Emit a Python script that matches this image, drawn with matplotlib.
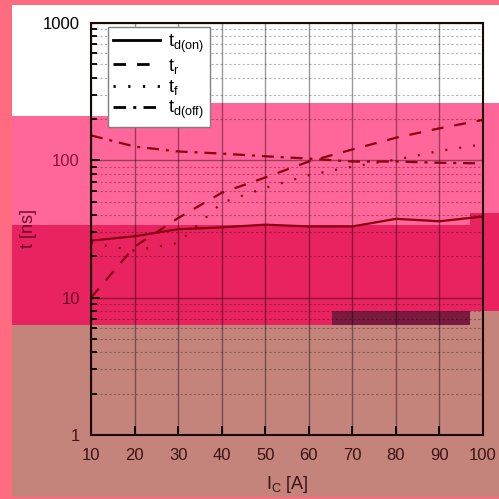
import numpy as np
import matplotlib
matplotlib.use("Agg")
import matplotlib.pyplot as plt
from matplotlib.patches import Rectangle
from matplotlib.lines import Line2D
from matplotlib.ticker import LogLocator, NullFormatter, FixedLocator

plt.rcParams['font.family'] = ['Liberation Sans', 'DejaVu Sans']
plt.rcParams['mathtext.default'] = 'regular'

# Data (collector current in A, times in ns)
ic = [10, 20, 30, 40, 50, 60, 70, 80, 90, 100]
td_on = [26, 28, 31.5, 32.5, 34, 33, 33, 37.5, 36, 39]
t_r = [10, 23.5, 38, 58, 75, 98, 120, 146, 171, 197]
t_f = [25, 22, 25, 49, 63, 78, 90, 101, 117, 131]
td_off = [152, 126, 116, 112, 107, 103, 98, 98, 96, 95]

x_ticks = [10, 20, 30, 40, 50, 60, 70, 80, 90, 100]
y_ticks = [1, 10, 100, 1000]
y_tick_labels = ['1', '10', '100', '1000']
y_tick_colors = ['#4a1418', '#6e0a2c', '#8a1438', 'black']

W = H = 499
fig = plt.figure(figsize=(W / 100, H / 100), dpi=100, facecolor='#ff6b80')


def band(x0, y0, x1, y1, color):
    # pixel box measured from top-left of the image
    r = Rectangle((x0 / W, 1 - y1 / H), (x1 - x0) / W, (y1 - y0) / H,
                  transform=fig.transFigure, facecolor=color,
                  edgecolor='none', zorder=-1)
    fig.add_artist(r)


band(12, 5, 499, 116, 'white')
band(12, 116, 499, 225, '#ff6699')
band(108, 103, 499, 116, '#ff6699')
band(12, 225, 499, 325, '#e8235f')
band(470, 213, 499, 225, '#e8235f')
band(332, 311, 470, 325, '#7a1a40')
band(12, 325, 499, 497, '#c4847c')
band(470, 311, 499, 325, '#c4847c')

ax = fig.add_axes([91 / W, 1 - 435 / H, 392 / W, 412 / H])
ax.set_facecolor('none')
ax.set_yscale('log')
ax.set_xlim(10, 100)
ax.set_ylim(1, 1000)

line_col = '#8b0010'
lw = 1.6
ls_r = (0, (5.4, 4.9))
ls_f = (0, (0.9, 5.4))
ls_off = (0, (5.4, 3.1, 1.35, 3.1))

ax.plot(ic, td_on, color=line_col, lw=lw, ls='-')
ax.plot(ic, t_r, color=line_col, lw=lw, ls=ls_r)
ax.plot(ic, t_f, color=line_col, lw=lw, ls=ls_f)
ax.plot(ic, td_off, color=line_col, lw=lw, ls=ls_off)

# grid
ax.xaxis.set_major_locator(FixedLocator(x_ticks))
ax.yaxis.set_major_locator(FixedLocator(y_ticks))
ax.yaxis.set_minor_locator(LogLocator(base=10, subs=np.arange(2, 10)))
ax.yaxis.set_minor_formatter(NullFormatter())
ax.grid(which='major', color='black', alpha=0.4, lw=1.0)
ax.yaxis.grid(which='minor', color='black', alpha=0.3, lw=0.8, ls=(0, (2, 2)))

ax.set_xticklabels([str(v) for v in x_ticks])
ax.set_yticklabels(y_tick_labels)
for lab, c in zip(ax.get_yticklabels(), y_tick_colors):
    lab.set_color(c)
for lab in ax.get_xticklabels():
    lab.set_color('#3a1414')

ax.tick_params(which='major', direction='in', length=6.5, width=1.3,
               labelsize=12, pad=8)
ax.tick_params(which='minor', direction='in', length=4.3, width=1.3)
ax.tick_params(axis='x', pad=9)
for s in ax.spines.values():
    s.set_linewidth(1.5)
    s.set_color('#1a0808')

ax.set_xlabel('$I_C$ [A]', fontsize=13, color='#3a1414', labelpad=8)
ax.set_ylabel('t [ns]', fontsize=13, color='#6e0a2c', labelpad=4)

handles = [
    Line2D([], [], color='black', lw=2, ls='-'),
    Line2D([], [], color='black', lw=2, ls=(0, (4.5, 4.0))),
    Line2D([], [], color='black', lw=2, ls=(0, (0.8, 4.5))),
    Line2D([], [], color='black', lw=2, ls=(0, (4.5, 2.6, 1.1, 2.6))),
]
labels = ['$t_{d(on)}$', '$t_r$', '$t_f$', '$t_{d(off)}$']
leg = ax.legend(handles, labels, loc='upper left',
                bbox_to_anchor=(17 / 392, 1 - 4 / 412), borderaxespad=0,
                fontsize=13, handlelength=2.6, handletextpad=0.45,
                labelspacing=0.12, borderpad=0.3, fancybox=False,
                framealpha=1, edgecolor='#808080')
leg.get_frame().set_linewidth(1.0)

fig.savefig('out.png', dpi=100, facecolor=fig.get_facecolor())
